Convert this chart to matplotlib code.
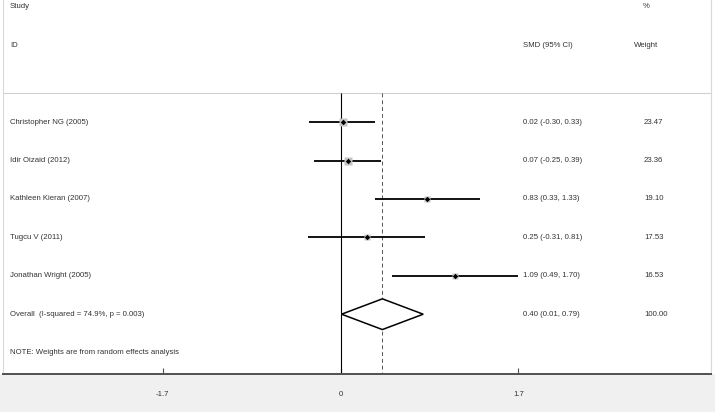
import matplotlib
matplotlib.use("Agg")
import matplotlib.pyplot as plt
import matplotlib.transforms as mtransforms
from matplotlib.patches import Polygon, Rectangle

studies = ["Christopher NG (2005)", "Idir Oizaid (2012)", "Kathleen Kieran (2007)",
           "Tugcu V (2011)", "Jonathan Wright (2005)"]
smd = [0.02, 0.07, 0.83, 0.25, 1.09]
lo = [-0.30, -0.25, 0.33, -0.31, 0.49]
hi = [0.33, 0.39, 1.33, 0.81, 1.70]
weights = [23.47, 23.36, 19.10, 17.53, 16.53]
overall_label = "Overall  (I-squared = 74.9%, p = 0.003)"
overall = [0.40, 0.01, 0.79]
overall_weight = 100.00
ticks = [-1.7, 0, 1.7]
tick_labels = ["-1.7", "0", "1.7"]

W, H = 715, 412
fig = plt.figure(figsize=(W / 100, H / 100), dpi=100)
fig.patch.set_facecolor("white")
plt.rcParams["font.family"] = ["Liberation Sans", "DejaVu Sans"]

row_px = 38.4
row0_px = 7.0
axis_px = 374.0
x0_px = 340.5
unit_px = 104.7
left_px, right_px = 3.0, 711.0

# grey band below the axis
fig.patches.append(Rectangle((0, 0), 1, (H - axis_px) / H, transform=fig.transFigure,
                             facecolor="#f0f0f0", edgecolor="none", zorder=-5))

ax = fig.add_axes([left_px / W, (H - axis_px) / H, (right_px - left_px) / W, axis_px / H])
ax.set_facecolor("white")
ax.set_xlim((left_px - x0_px) / unit_px, (right_px - x0_px) / unit_px)
ybot = (axis_px - row0_px) / row_px
ytop = -row0_px / row_px
ax.set_ylim(ybot, ytop)

for s in ["left", "right"]:
    ax.spines[s].set_color("#d8d8d8")
    ax.spines[s].set_linewidth(0.8)
ax.spines["top"].set_visible(False)
ax.spines["bottom"].set_color("#505050")
ax.spines["bottom"].set_linewidth(1.4)
ax.set_yticks([])
ax.set_xticks(ticks)
ax.set_xticklabels(tick_labels)
ax.tick_params(axis="x", direction="in", length=4, width=0.8, color="#505050",
               labelsize=5.6, labelcolor="#333333", pad=12)

tc = "#333333"
fs = 5.6
trans = mtransforms.blended_transform_factory(fig.transFigure, ax.transData)

# header line
line_y = (93 - row0_px) / row_px
ax.axhline(line_y, color="#d0d0d0", lw=0.8, zorder=1)

# headers
ax.text(10 / W, 0, "Study", transform=trans, fontsize=fs, color=tc, va="center")
ax.text(10 / W, 1, "ID", transform=trans, fontsize=fs, color=tc, va="center")
ax.text(523 / W, 1, "SMD (95% CI)", transform=trans, fontsize=fs, color=tc, va="center")
ax.text(646 / W, 0, "%", transform=trans, fontsize=fs, color=tc, va="center", ha="center")
ax.text(646 / W, 1, "Weight", transform=trans, fontsize=fs, color=tc, va="center", ha="center")

# reference lines
ax.vlines(0, line_y, ybot, color="black", lw=0.8, zorder=2)
ax.vlines(overall[0], line_y, ybot, color="#555555", lw=0.7, linestyles=(0, (4, 3)), zorder=2)

rows = [3 + i for i in range(len(studies))]
for r, name, m, l, h, w in zip(rows, studies, smd, lo, hi, weights):
    ax.hlines(r, l, h, color="black", lw=1.3, zorder=3)
    ax.plot(m, r, marker="s", ms=w * 0.24, color="#c4c4c4", mec="none", zorder=3.5)
    ax.plot(m, r, marker="D", ms=2.8, color="black", mec="none", zorder=4)
    ax.text(10 / W, r, name, transform=trans, fontsize=fs, color=tc, va="center")
    ax.text(523 / W, r, f"{m:.2f} ({l:.2f}, {h:.2f})", transform=trans, fontsize=fs,
            color=tc, va="center")
    ax.text(644 / W, r, f"{w:.2f}", transform=trans, fontsize=fs, color=tc, va="center")

ro = rows[-1] + 1
est, olo, ohi = overall
dia = Polygon([(olo, ro), (est, ro - 0.4), (ohi, ro), (est, ro + 0.4)], closed=True,
              facecolor="white", edgecolor="black", lw=1.1, zorder=5)
ax.add_patch(dia)
ax.text(10 / W, ro, overall_label, transform=trans, fontsize=fs, color=tc, va="center")
ax.text(523 / W, ro, f"{est:.2f} ({olo:.2f}, {ohi:.2f})", transform=trans, fontsize=fs,
        color=tc, va="center")
ax.text(644 / W, ro, f"{overall_weight:.2f}", transform=trans, fontsize=fs, color=tc, va="center")

ax.text(10 / W, ro + 1, "NOTE: Weights are from random effects analysis", transform=trans,
        fontsize=fs, color=tc, va="center")

fig.savefig("out.png", dpi=100, facecolor=fig.get_facecolor())
